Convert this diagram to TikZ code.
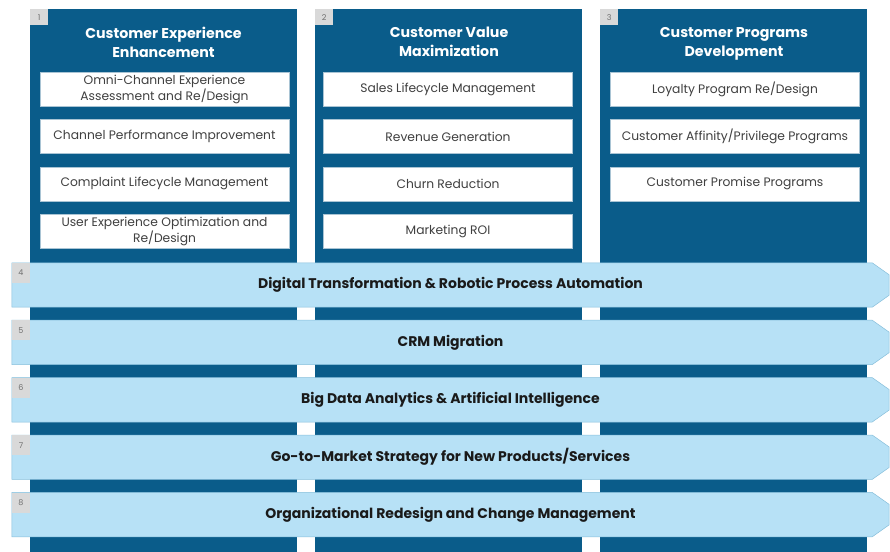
\documentclass[tikz,border=0pt]{standalone}
\usepackage{fontspec}
\setmainfont{Poppins}
\usepackage{xcolor}
\usetikzlibrary{
  positioning
}
\pgfdeclarelayer{cols}
\pgfdeclarelayer{bands}
\pgfsetlayers{cols,bands,main}
\definecolor{colFill}{HTML}{0A5C8A}
\definecolor{bandFill}{HTML}{B7E1F6}
\definecolor{bandStroke}{HTML}{86BEDA}
\definecolor{bandTxt}{HTML}{1A1A1A}
\definecolor{itemStroke}{HTML}{A9C4D4}
\definecolor{itemTxt}{HTML}{404040}
\definecolor{tabFill}{HTML}{D9D9D9}
\definecolor{tabTxt}{HTML}{707070}
\tikzset{
  base/.style={
    rectangle, align=center, inner sep=2pt
  },
  col nd/.style={
    base, anchor=north west, fill=colFill,
    minimum width=267pt, minimum height=560pt
  },
  tab nd/.style={
    base, anchor=north west, fill=tabFill, text=tabTxt,
    minimum width=18pt, minimum height=16pt,
    font=\fontsize{8}{9}\selectfont
  },
  head nd/.style={
    base, anchor=north, text=white,
    font=\fontsize{14.2}{19}\selectfont\bfseries
  },
  item nd/.style={
    base, fill=white, draw=itemStroke, line width=0.4pt, text=itemTxt,
    minimum width=249pt, minimum height=34pt,
    font=\fontsize{12.3}{16}\selectfont
  },
  band nd/.style={
    base, text=bandTxt, minimum width=877pt, minimum height=44pt,
    font=\fontsize{14}{15}\selectfont\bfseries
  },
  band shape/.style={
    fill=bandFill, draw=bandStroke, line width=0.5pt
  }
}
\begin{document}
\begin{tikzpicture}[x=1pt,y=-1pt]
  \useasboundingbox (0,0) rectangle (890,551);

  \begin{pgfonlayer}{cols}
  % the three columns
  \node[col nd] (col1) at (30,9) {};
  \node[col nd] (col2) at (315,9) {};
  \node[col nd] (col3) at (600,9) {};

  \node[tab nd] (t1) at (col1.north west) {1};
  \node[tab nd] (t2) at (col2.north west) {2};
  \node[tab nd] (t3) at (col3.north west) {3};

  \node[head nd] (h1) at (163.5,25) {Customer Experience\\Enhancement};
  \node[head nd] (h2) at (449,25) {Customer Value\\Maximization};
  \node[head nd] (h3) at (734,25) {Customer Programs\\Development};

  % column 1
  \node[item nd] (ce1) at (164.5,89)
    {Omni-Channel Experience\\Assessment and Re/Design};
  \node[item nd, below=13pt of ce1] (ce2) {Channel Performance Improvement};
  \node[item nd, below=13pt of ce2] (ce3) {Complaint Lifecycle Management};
  \node[item nd, below=13pt of ce3] (ce4)
    {User Experience Optimization and\\Re/Design};

  % column 2
  \node[item nd] (cv1) at (448,89) {Sales Lifecycle Management};
  \node[item nd, below=13pt of cv1] (cv2) {Revenue Generation};
  \node[item nd, below=13pt of cv2] (cv3) {Churn Reduction};
  \node[item nd, below=13pt of cv3] (cv4) {Marketing ROI};

  % column 3
  \node[item nd] (cp1) at (735,89) {Loyalty Program Re/Design};
  \node[item nd, below=13pt of cp1] (cp2) {Customer Affinity/Privilege Programs};
  \node[item nd, below=13pt of cp2] (cp3) {Customer Promise Programs};
  \end{pgfonlayer}

  % cross-cutting bands
  \node[band nd] (b4) at (450.5,285)
    {Digital Transformation \& Robotic Process Automation};
  \node[band nd, below=13pt of b4] (b5) {CRM Migration};
  \node[band nd, below=13pt of b5] (b6)
    {Big Data Analytics \& Artificial Intelligence};
  \node[band nd, below=13pt of b6] (b7)
    {Go-to-Market Strategy for New Products/Services};
  \node[band nd, below=13pt of b7] (b8)
    {Organizational Redesign and Change Management};

  % band outlines, chamfered on the right
  \begin{pgfonlayer}{bands}
  \foreach \b in {b4,b5,b6,b7,b8}
    \draw[band shape] (\b.north west) -- ([xshift=-17pt]\b.north east)
      -- ([yshift=-12pt]\b.north east) -- ([yshift=12pt]\b.south east)
      -- ([xshift=-17pt]\b.south east) -- (\b.south west) -- cycle;
  \end{pgfonlayer}

  \foreach \b/\n in {b4/4,b5/5,b6/6,b7/7,b8/8}
    \node[tab nd, minimum height=20pt] (t\n) at (\b.north west) {\n};

\end{tikzpicture}
\end{document}
